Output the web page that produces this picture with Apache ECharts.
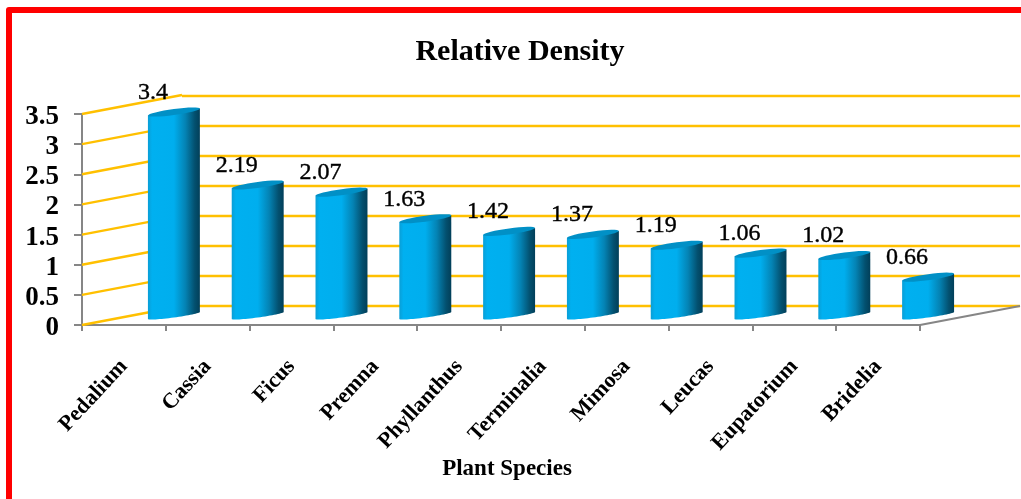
<!DOCTYPE html>
<html>
<head>
<meta charset="utf-8">
<title>Relative Density</title>
<style>
  html, body { margin: 0; padding: 0; background: #fff; }
  #chart { width: 1021px; height: 499px; }
</style>
<script src="https://cdn.jsdelivr.net/npm/echarts@6/dist/echarts.min.js"></script>
</head>
<body>
<div id="chart"></div>
<script>
const species = ['Pedalium', 'Cassia', 'Ficus', 'Premna', 'Phyllanthus', 'Terminalia', 'Mimosa', 'Leucas', 'Eupatorium', 'Bridelia'];
const density = [3.4, 2.19, 2.07, 1.63, 1.42, 1.37, 1.19, 1.06, 1.02, 0.66];
const yTicks = [0, 0.5, 1, 1.5, 2, 2.5, 3, 3.5];

// the fake 3D depth of the old Excel chart
const depthX = 100;
const depthY = 19;
const serif = '"Liberation Serif", "Times New Roman", serif';

// tilted ellipse points, from left edge (t=PI) round to the right edge
function arc(cx, cy, a, tilt, b, from, to) {
  const pts = [];
  for (let i = 0; i <= 32; i++) {
    const t = from + (to - from) * i / 32;
    pts.push([cx + a * Math.cos(t), cy - tilt * Math.cos(t) + b * Math.sin(t)]);
  }
  return pts;
}

function renderCylinder(params, api) {
  const top = api.coord([api.value(0), api.value(1)]);
  const bottom = api.coord([api.value(0), 0]);
  const band = api.size([1, 0])[0];
  const a = band * 0.31;
  const cx = top[0] + depthX / 2;
  const topY = top[1] - depthY / 2 + 1.5;
  const botY = bottom[1] - depthY / 2;
  const side = [[cx - a, topY + 3.5]]
    .concat(arc(cx, botY, a, 3.5, 2, Math.PI, 0))
    .concat([[cx + a, topY - 3.5]]);
  return {
    type: 'group',
    children: [
      {
        type: 'polygon',
        shape: { points: side },
        style: {
          fill: new echarts.graphic.LinearGradient(0, 0, 1, 0, [
            { offset: 0, color: '#0a9ed6' },
            { offset: 0.08, color: '#00b0f0' },
            { offset: 0.5, color: '#00aeee' },
            { offset: 0.72, color: '#0483b4' },
            { offset: 0.9, color: '#03506f' },
            { offset: 1, color: '#023f59' }
          ])
        }
      },
      {
        type: 'polygon',
        shape: { points: arc(cx, topY, a, 3.5, 3, 0, Math.PI * 2) },
        style: { fill: '#0190c6' }
      },
      {
        type: 'text',
        style: {
          x: cx - 21,
          y: topY - 19.5,
          text: String(api.value(1)),
          fill: '#000',
          stroke: '#000',
          lineWidth: 0.4,
          font: '24px ' + serif,
          align: 'center',
          verticalAlign: 'middle'
        }
      }
    ]
  };
}

// yellow lines on the side wall, going from the axis to the back wall
function renderWall(params, api) {
  const p = api.coord([0, api.value(0)]);
  const x = p[0] - api.size([1, 0])[0] / 2;
  return {
    type: 'line',
    shape: { x1: x, y1: p[1], x2: x + depthX, y2: p[1] - depthY },
    style: { stroke: '#ffc000', lineWidth: 2.4 }
  };
}

// grey floor edge on the right
function renderFloor(params, api) {
  const p = api.coord([species.length - 1, 0]);
  const x = p[0] + api.size([1, 0])[0] / 2;
  return {
    type: 'line',
    shape: { x1: x, y1: p[1], x2: x + depthX, y2: p[1] - depthY },
    style: { stroke: '#868686', lineWidth: 2 }
  };
}

const myChart = echarts.init(document.getElementById('chart'));
myChart.setOption({
  animation: false,
  backgroundColor: '#fff',
  title: {
    text: 'Relative Density',
    left: 515,
    top: 32,
    textAlign: 'center',
    textStyle: { fontFamily: serif, fontSize: 30, fontWeight: 'bold', color: '#000' }
  },
  graphic: [
    {
      type: 'polyline',
      shape: { points: [[9, 499], [9, 10], [1021, 10]] },
      style: { stroke: '#ff0000', lineWidth: 6, fill: null, lineJoin: 'round' },
      silent: true
    }
  ],
  grid: [
    { left: 82, top: 114, width: 838, height: 211 },
    { left: 182, top: 96, width: 838, height: 210 }
  ],
  xAxis: [
    {
      type: 'category',
      gridIndex: 0,
      data: species,
      name: 'Plant Species',
      nameLocation: 'middle',
      nameGap: 133,
      nameTextStyle: { fontFamily: serif, fontSize: 23, fontWeight: 'bold', color: '#000', padding: [0, 0, 0, 12] },
      axisLine: { lineStyle: { color: '#868686', width: 2 } },
      axisTick: { show: true, length: 6, lineStyle: { color: '#868686', width: 2 } },
      axisLabel: {
        rotate: 47,
        interval: 0,
        margin: 38,
        fontFamily: serif,
        fontSize: 22,
        fontWeight: 'bold',
        color: '#000'
      }
    },
    {
      type: 'category',
      gridIndex: 1,
      data: species,
      show: false
    }
  ],
  yAxis: [
    {
      type: 'value',
      gridIndex: 0,
      min: 0,
      max: 3.5,
      interval: 0.5,
      splitLine: { show: false },
      axisLine: { show: true, lineStyle: { color: '#868686', width: 2 } },
      axisTick: { show: true, length: 8, lineStyle: { color: '#868686', width: 2 } },
      axisLabel: {
        margin: 23,
        verticalAlign: 'top',
        lineHeight: 6,
        fontFamily: serif,
        fontSize: 27,
        fontWeight: 'bold',
        color: '#000'
      }
    },
    {
      type: 'value',
      gridIndex: 1,
      min: 0,
      max: 3.5,
      interval: 0.5,
      axisLine: { show: false },
      axisTick: { show: false },
      axisLabel: { show: false },
      splitLine: { show: true, lineStyle: { color: '#ffc000', width: 2.4 } }
    }
  ],
  series: [
    {
      type: 'custom',
      name: 'wall',
      xAxisIndex: 0,
      yAxisIndex: 0,
      silent: true,
      z: 1,
      clip: false,
      data: yTicks.map(v => [v]),
      encode: { y: 0 },
      renderItem: renderWall
    },
    {
      type: 'custom',
      name: 'floor',
      xAxisIndex: 0,
      yAxisIndex: 0,
      silent: true,
      z: 1,
      clip: false,
      data: [[0]],
      encode: { y: 0 },
      renderItem: renderFloor
    },
    {
      type: 'custom',
      name: 'Relative Density',
      xAxisIndex: 0,
      yAxisIndex: 0,
      z: 3,
      clip: false,
      data: species.map((s, i) => [i, density[i]]),
      encode: { x: 0, y: 1 },
      renderItem: renderCylinder
    }
  ]
});
</script>
</body>
</html>
